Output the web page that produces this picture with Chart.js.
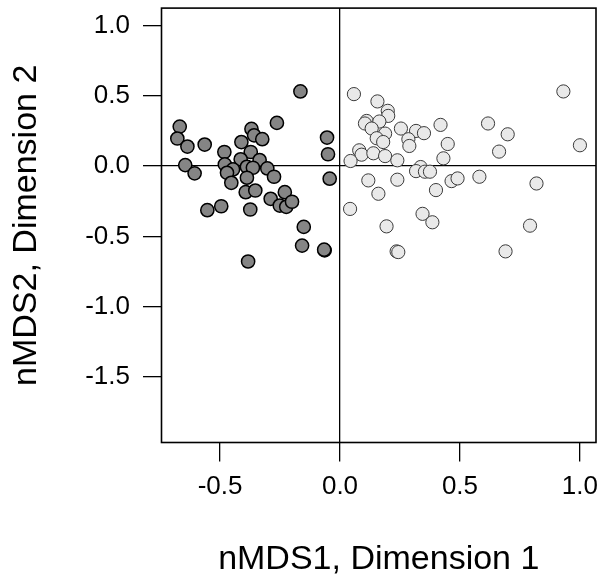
<!DOCTYPE html>
<html>
<head>
<meta charset="utf-8">
<script src="https://cdn.jsdelivr.net/npm/chart.js@4.4.1/dist/chart.umd.min.js"></script>
<style>
  html, body { margin: 0; padding: 0; background: #ffffff; }
  #wrap { width: 605px; height: 586px; }
</style>
</head>
<body>
<div id="wrap"><canvas id="c" width="605" height="586"></canvas></div>
<script>
// ---- data ----
const groupAX = [-0.165,-0.668,-0.678,-0.636,-0.564,-0.263,-0.369,-0.358,-0.324,-0.411,-0.482,-0.372,-0.054,-0.050,-0.645,-0.606,-0.480,-0.414,-0.335,-0.388,-0.363,-0.446,-0.471,-0.303,-0.275,-0.388,-0.453,-0.043,-0.393,-0.353,-0.289,-0.230,-0.251,-0.224,-0.200,-0.553,-0.495,-0.374,-0.151,-0.158,-0.064,-0.066,-0.383];
const groupAY = [0.531,0.281,0.196,0.139,0.153,0.307,0.264,0.219,0.191,0.171,0.100,0.100,0.203,0.084,0.007,-0.052,0.012,0.048,0.043,-0.005,-0.012,-0.024,-0.048,-0.017,-0.076,-0.083,-0.119,-0.090,-0.186,-0.174,-0.233,-0.186,-0.281,-0.290,-0.254,-0.314,-0.286,-0.309,-0.433,-0.566,-0.600,-0.595,-0.679];
const groupBX = [0.058,0.156,0.199,0.201,0.111,0.104,0.164,0.132,0.188,0.153,0.180,0.254,0.317,0.350,0.285,0.289,0.419,0.449,0.431,0.080,0.090,0.139,0.188,0.239,0.044,0.336,0.317,0.354,0.375,0.118,0.239,0.465,0.490,0.581,0.400,0.160,0.819,0.617,0.699,0.663,0.931,1.000,0.042,0.344,0.385,0.194,0.792,0.236,0.243,0.690];
const groupBY = [0.512,0.460,0.393,0.357,0.321,0.303,0.317,0.267,0.231,0.198,0.171,0.267,0.250,0.234,0.191,0.143,0.293,0.157,0.055,0.112,0.081,0.091,0.071,0.041,0.036,-0.007,-0.036,-0.040,-0.040,-0.102,-0.097,-0.107,-0.088,-0.076,-0.171,-0.197,-0.124,0.303,0.226,0.103,0.531,0.148,-0.305,-0.340,-0.400,-0.429,-0.424,-0.607,-0.612,-0.607];
const xTickValues = [-0.5, 0.0, 0.5, 1.0];
const yTickValues = [1.0, 0.5, 0.0, -0.5, -1.0, -1.5];
const xTitle = 'nMDS1, Dimension 1';
const yTitle = 'nMDS2, Dimension 2';

const toPoints = (xs, ys) => xs.map((x, i) => ({ x: x, y: ys[i] }));

const boxPlugin = {
  id: 'box',
  afterDraw(chart) {
    const a = chart.chartArea, ctx = chart.ctx;
    ctx.save();
    ctx.strokeStyle = '#000';
    ctx.lineWidth = 1.6;
    ctx.strokeRect(a.left, a.top, a.right - a.left, a.bottom - a.top);
    ctx.restore();
  }
};

const FONT = "'Liberation Sans', Arial, sans-serif";

new Chart(document.getElementById('c'), {
  type: 'scatter',
  data: {
    datasets: [
      {
        data: toPoints(groupBX, groupBY),
        backgroundColor: '#e9e9e9',
        borderColor: '#3a3a3a',
        borderWidth: 1,
        pointRadius: 6.6,
        pointHoverRadius: 6.6
      },
      {
        data: toPoints(groupAX, groupAY),
        backgroundColor: '#858585',
        borderColor: '#000000',
        borderWidth: 1.5,
        pointRadius: 6.6,
        pointHoverRadius: 6.6
      }
    ]
  },
  options: {
    responsive: false,
    animation: false,
    devicePixelRatio: 1,
    layout: { padding: { left: 0, top: 7.5, right: 9, bottom: 0 } },
    plugins: { legend: { display: false }, tooltip: { enabled: false } },
    scales: {
      x: {
        type: 'linear',
        min: -0.744, max: 1.067,
        afterBuildTicks: s => { s.ticks = xTickValues.map(v => ({ value: v })); },
        afterFit: s => { s.height = 143.5; s.paddingLeft = 0; s.paddingRight = 0; },
        border: { display: false },
        grid: {
          drawOnChartArea: true,
          drawTicks: true,
          tickLength: 19,
          tickColor: '#000',
          tickWidth: 1.3,
          color: c => (c.tick && c.tick.value === 0) ? '#000' : 'rgba(0,0,0,0)',
          lineWidth: 1.3
        },
        ticks: {
          color: '#000',
          font: { family: FONT, size: 26 },
          padding: 10,
          maxRotation: 0,
          callback: v => Number(v).toFixed(1)
        },
        title: {
          display: true,
          text: xTitle,
          color: '#000',
          font: { family: FONT, size: 34 },
          padding: { top: 0, bottom: 5.5 }
        }
      },
      y: {
        type: 'linear',
        min: -1.967, max: 1.124,
        afterBuildTicks: s => { s.ticks = yTickValues.map(v => ({ value: v })); },
        afterFit: s => { s.width = 161.5; s.paddingTop = 0; s.paddingBottom = 0; },
        border: { display: false },
        grid: {
          drawOnChartArea: true,
          drawTicks: true,
          tickLength: 18.5,
          tickColor: '#000',
          tickWidth: 1.3,
          color: c => (c.tick && c.tick.value === 0) ? '#000' : 'rgba(0,0,0,0)',
          lineWidth: 1.3
        },
        ticks: {
          color: '#000',
          font: { family: FONT, size: 26 },
          padding: 13,
          callback: v => Number(v).toFixed(1)
        },
        title: {
          display: true,
          text: yTitle,
          color: '#000',
          font: { family: FONT, size: 34 },
          padding: { top: 6, bottom: 0 }
        }
      }
    }
  },
  plugins: [boxPlugin]
});
</script>
</body>
</html>
